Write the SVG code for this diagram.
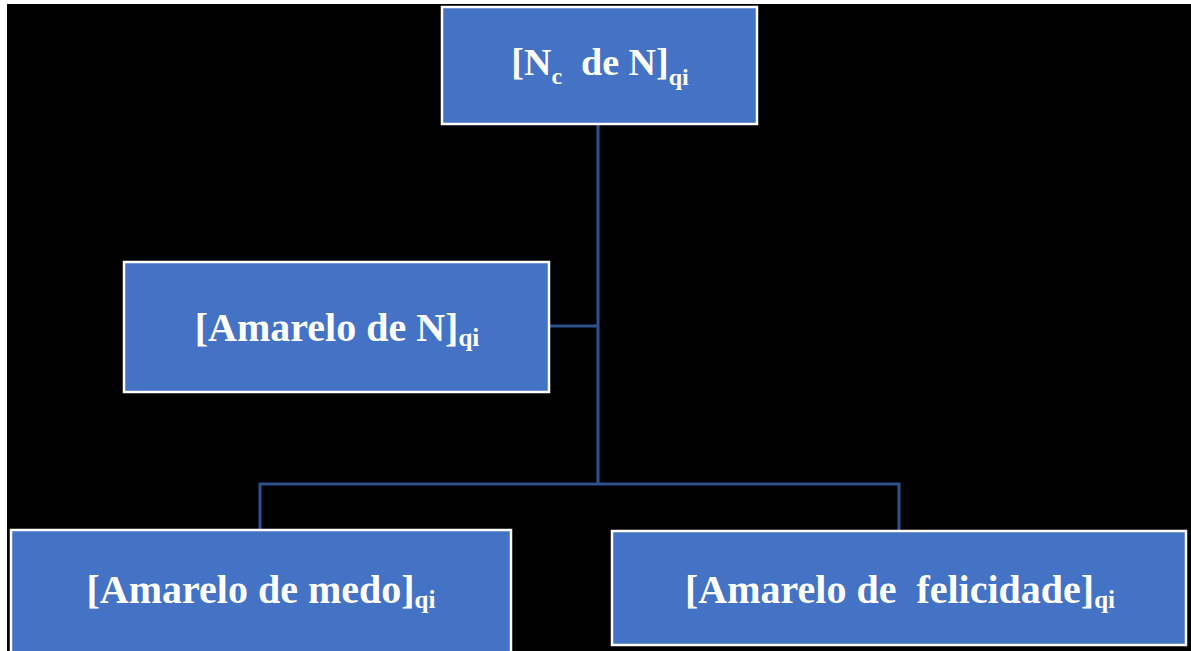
<svg xmlns="http://www.w3.org/2000/svg" width="1191" height="651" viewBox="0 0 1191 651">
<style>
.box{fill:#4472C4;stroke:#FFFFFF;stroke-width:2.5}
.lbl{font-family:"Liberation Serif","Times New Roman",serif;font-weight:bold;fill:#FFFFFF;text-anchor:middle;white-space:pre}
.conn{stroke:#2F528F;stroke-width:3;fill:none}
</style>
<rect x="0" y="0" width="1191" height="651" fill="#FFFFFF"/>
<rect x="7" y="4" width="1184" height="647" fill="#000000"/>
<g id="connectors">
<path class="conn" d="M598,124 V484"/>
<path class="conn" d="M549,326 H598"/>
<path class="conn" d="M260,531 V484 H899 V531"/>
</g>
<g id="node-top">
<rect class="box" x="442" y="7" width="315" height="117"/>
<text class="lbl" x="600" y="75" font-size="38">[N<tspan font-size="24" dy="9">c</tspan><tspan dy="-9">  de N]</tspan><tspan font-size="24" dy="10">qi</tspan></text>
</g>
<g id="node-middle">
<rect class="box" x="124" y="262" width="425" height="130"/>
<text class="lbl" x="337" y="341" font-size="40">[Amarelo de N]<tspan font-size="25" dy="5">qi</tspan></text>
</g>
<g id="node-bottom-left">
<rect class="box" x="11" y="530" width="500" height="130"/>
<text class="lbl" x="261" y="603" font-size="40">[Amarelo de medo]<tspan font-size="25" dy="5">qi</tspan></text>
</g>
<g id="node-bottom-right">
<rect class="box" x="612" y="531" width="574" height="114"/>
<text class="lbl" x="900" y="603" font-size="40">[Amarelo de  felicidade]<tspan font-size="25" dy="5">qi</tspan></text>
</g>
</svg>
